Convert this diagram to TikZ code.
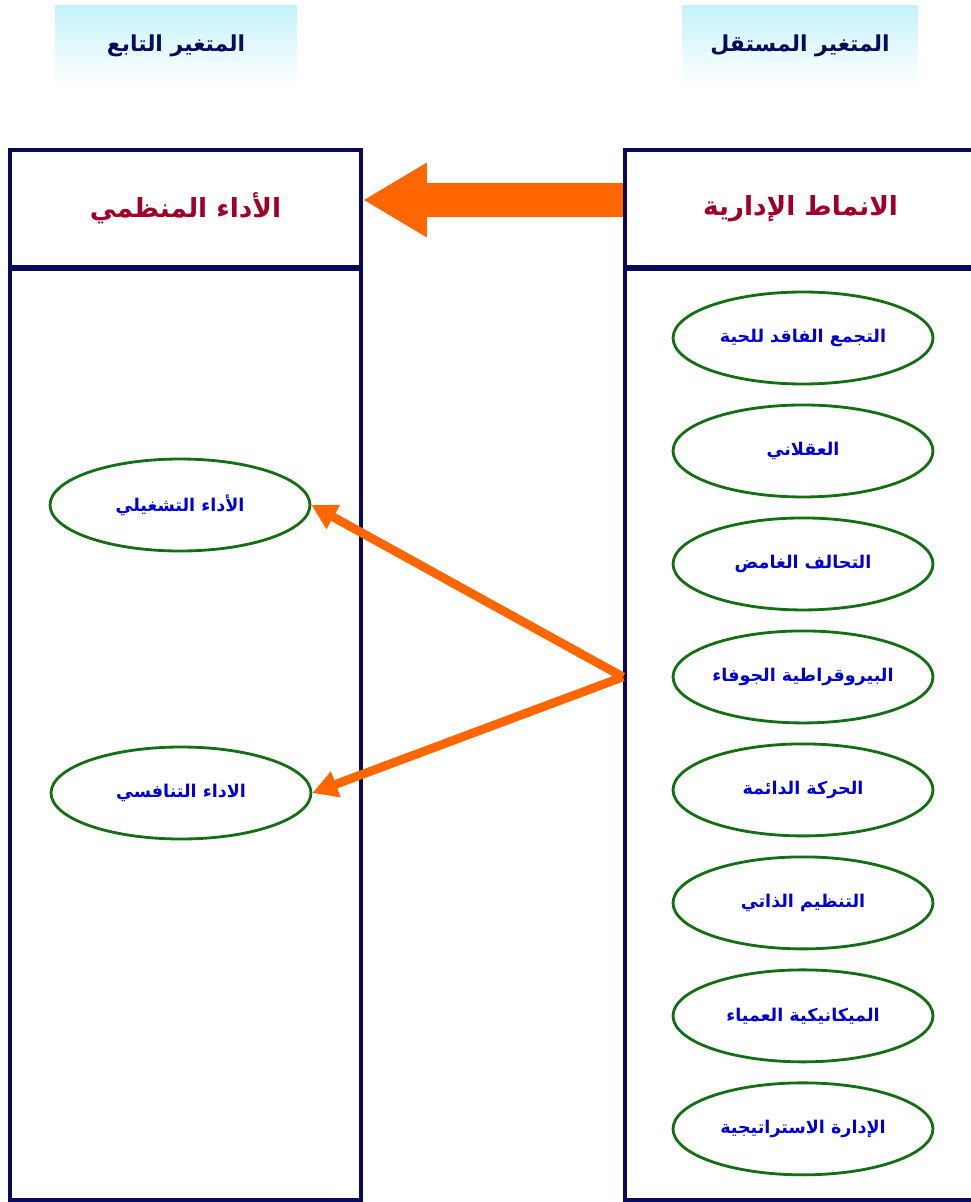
\documentclass[tikz,border=0pt]{standalone}
\usepackage{fontspec}
\usepackage{tikz}
\usetikzlibrary{shapes.geometric,arrows.meta,positioning}
\newfontfamily\arabicfont[Script=Arabic]{DejaVu Sans}
\TeXXeTstate=1
\definecolor{navy}{RGB}{10,10,90}
\definecolor{boxorange}{RGB}{255,102,0}
\definecolor{ovalgreen}{RGB}{20,110,20}
\definecolor{headred}{RGB}{160,0,40}
\definecolor{textblue}{RGB}{0,0,210}
\definecolor{labelcyan}{RGB}{196,242,250}
\newcommand{\artext}[1]{\arabicfont\bfseries\beginR #1\endR}

\begin{document}
\begin{tikzpicture}[x=0.02cm, y=-0.02cm, node distance=2.26cm]
\tikzstyle{varbox}=[top color=labelcyan, bottom color=white, minimum height=1.64cm, text=navy, font=\fontsize{12.5}{15}\selectfont]
\tikzstyle{headbox}=[draw=navy, line width=2.3pt, fill=white, minimum width=7.02cm, minimum height=2.34cm, text=headred, font=\fontsize{15}{18}\selectfont]
\tikzstyle{bodybox}=[draw=navy, line width=2.3pt, fill=white, minimum width=7.02cm, minimum height=18.62cm, anchor=north]
\tikzstyle{oval}=[ellipse, draw=ovalgreen, line width=1.6pt, fill=white, inner sep=0pt, minimum width=5.2cm, minimum height=1.84cm, text=textblue, font=\fontsize{10}{12}\selectfont]
\tikzstyle{link}=[draw=boxorange, line width=5pt, -{Triangle[length=0.5cm,width=0.52cm]}]
\useasboundingbox (0,0) rectangle (970,1202);
\node[varbox, minimum width=4.84cm] (dv) at (176,46)   {\artext{المتغير التابع}};
\node[varbox, minimum width=4.7cm]  (iv) at (800,46)   {\artext{المتغير المستقل}};
\node[bodybox]  (lb) at (185.5,267) {};
\node[headbox]  (lh) at (185.5,208.5) {\artext{الأداء المنظمي}};
\node[bodybox]  (rb) at (800.5,267) {};
\node[headbox]  (rh) at (800.5,208.5) {\artext{الانماط الإدارية}};
\node[oval]     (e1) at (803,338)   {\artext{التجمع الفاقد للحية}};
\node[oval]     (e2) [below of=e1]  {\artext{العقلاني}};
\node[oval]     (e3) [below of=e2]  {\artext{التحالف الغامض}};
\node[oval]     (e4) [below of=e3]  {\artext{البيروقراطية الجوفاء}};
\node[oval]     (e5) [below of=e4]  {\artext{الحركة الدائمة}};
\node[oval]     (e6) [below of=e5]  {\artext{التنظيم الذاتي}};
\node[oval]     (e7) [below of=e6]  {\artext{الميكانيكية العمياء}};
\node[oval]     (e8) [below of=e7]  {\artext{الإدارة الاستراتيجية}};
\node[oval]     (p1) at (180,505)   {\artext{الأداء التشغيلي}};
\node[oval]     (p2) at (181,793)   {\artext{الاداء التنافسي}};
\coordinate (fork) at (rb.west |- e4);
\draw[boxorange, line width=0.7cm, -{Triangle[length=1.28cm,width=1.4cm]}]
  ([yshift=0.17cm]rh.west) -- ([yshift=0.17cm]lh.east);
\draw[link] (fork) -- (p1.east);
\draw[link] (fork) -- (p2.east);
\end{tikzpicture}
\end{document}
